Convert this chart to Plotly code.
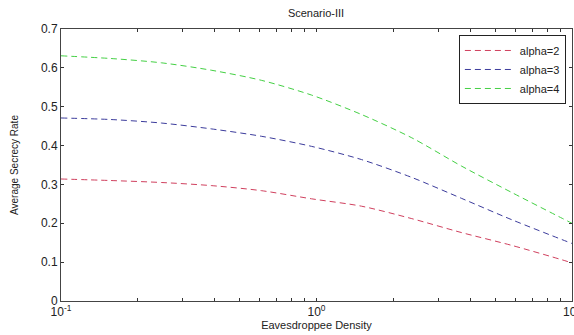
import plotly.graph_objects as go

density = [0.1, 0.157, 0.247, 0.387, 0.608, 0.956, 1.50, 2.36, 3.70, 5.82, 9.14, 10]
alpha2 = [0.314, 0.310, 0.305, 0.297, 0.284, 0.263, 0.244, 0.212, 0.176, 0.143, 0.106, 0.098]
alpha3 = [0.471, 0.467, 0.458, 0.443, 0.424, 0.398, 0.364, 0.318, 0.264, 0.209, 0.158, 0.148]
alpha4 = [0.631, 0.624, 0.613, 0.594, 0.568, 0.530, 0.480, 0.420, 0.347, 0.279, 0.213, 0.200]

series_names = ["alpha=2", "alpha=3", "alpha=4"]
series_colors = ["#d0405e", "#3c3c9c", "#44d044"]

x_tickvals = [0.1, 0.2, 0.3, 0.4, 0.5, 0.6, 0.7, 0.8, 0.9, 1, 2, 3, 4, 5, 6, 7, 8, 9, 10]
x_ticktext = ["10<sup>-1</sup>"] + [""] * 8 + ["10<sup>0</sup>"] + [""] * 8 + ["10<sup>1</sup>"]
y_tickvals = [0, 0.1, 0.2, 0.3, 0.4, 0.5, 0.6, 0.7]
y_ticktext = ["0", "0.1", "0.2", "0.3", "0.4", "0.5", "0.6", "0.7"]

fig = go.Figure()
for name, ys, col in zip(series_names, [alpha2, alpha3, alpha4], series_colors):
    fig.add_trace(go.Scatter(x=density, y=ys, mode="lines", name=name,
                             line=dict(color=col, width=1, dash="6px,4px",
                                       shape="spline", smoothing=0.8)))

font = dict(family="Liberation Sans, Arial, sans-serif", size=11, color="#222222")
fig.update_layout(
    width=574, height=335,
    margin=dict(l=61, r=2, t=29, b=34),
    paper_bgcolor="white", plot_bgcolor="white",
    font=font,
    title=dict(text="Scenario-III", x=316 / 574, xanchor="center",
               y=1 - 13 / 335, yanchor="middle", font=dict(size=11)),
    showlegend=True,
    legend=dict(x=0.988, y=0.978, xanchor="right", yanchor="top",
                bgcolor="white", bordercolor="#222222", borderwidth=1,
                font=dict(size=11), tracegroupgap=0, itemwidth=50,
                traceorder="normal"),
    xaxis=dict(type="log", range=[-1, 1], tickvals=x_tickvals, ticktext=x_ticktext,
               ticks="inside", ticklen=3, tickcolor="#333333",
               ticklabeloverflow="allow", automargin=False,
               showline=True, mirror="ticks", linecolor="#444444", linewidth=1,
               showgrid=False, zeroline=False, tickfont=dict(size=12),
               title=dict(text="Eavesdroppee Density", standoff=2, font=dict(size=11))),
    yaxis=dict(range=[0, 0.7], tickvals=y_tickvals, ticktext=y_ticktext,
               ticks="inside", ticklen=3, tickcolor="#333333", automargin=False,
               showline=True, mirror="ticks", linecolor="#444444", linewidth=1,
               showgrid=False, zeroline=False, tickfont=dict(size=12),
               title=dict(text="Average Secrecy Rate", standoff=20, font=dict(size=10))),
)

fig.write_html("out.html")
